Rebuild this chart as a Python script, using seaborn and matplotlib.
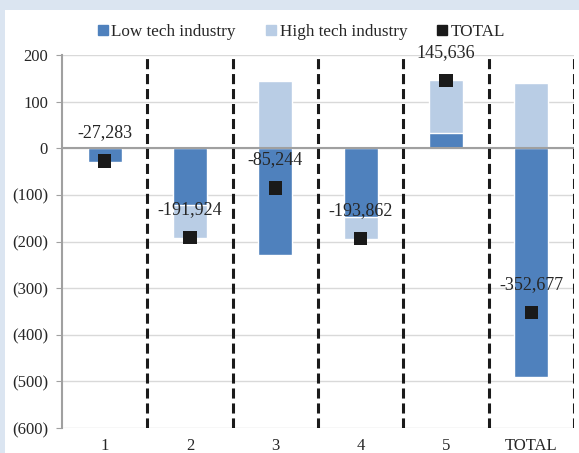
import numpy as np
import pandas as pd
import seaborn as sns
import matplotlib.pyplot as plt
from matplotlib.lines import Line2D
from matplotlib.patches import Rectangle
from matplotlib.ticker import FuncFormatter

categories = ['1', '2', '3', '4', '5', 'TOTAL']
low_tech = [-30.0, -121.5, -228.6, -146.5, 33.4, -491.5]
high_tech = [2.7, -70.4, 143.4, -47.4, 112.2, 139.0]
totals = [-27.283, -191.924, -85.244, -193.862, 145.636, -352.677]

dark = '#4f81bd'
light = '#b9cde5'
text_col = '#262626'

sns.set_style('white')
plt.rcParams['font.family'] = ['Liberation Serif', 'DejaVu Serif']
plt.rcParams['font.size'] = 12

df = pd.DataFrame({'cat': categories, 'low': low_tech, 'high': high_tech, 'total': totals})
# excel style stacking: high sits on top of low when same sign, else starts at zero
same = np.sign(df['low']) == np.sign(df['high'])
df['high_top'] = np.where(same, df['low'] + df['high'], df['high'])

fig = plt.figure(figsize=(5.79, 4.53), dpi=100)
fig.patch.set_facecolor('#dbe5f1')
fig.add_artist(Rectangle((5 / 579, 0), 1, 1 - 10 / 453, transform=fig.transFigure,
                         facecolor='white', edgecolor='none', zorder=0))
ax = fig.add_axes([62 / 579, 1 - 428 / 453, (574 - 62) / 579, (428 - 55) / 453])
ax.set_facecolor('none')

sns.barplot(data=df, x='cat', y='high_top', color=light, width=0.4, saturation=1, ax=ax, zorder=2)
sns.barplot(data=df, x='cat', y='low', color=dark, width=0.4, saturation=1, ax=ax, zorder=3)
sns.scatterplot(x=np.arange(len(categories)), y=df['total'], marker='s', s=90,
                color='#1a1a1a', edgecolor='none', ax=ax, zorder=5, legend=False)

for i, v in enumerate(totals):
    ax.annotate(f'{v * 1000:,.0f}', (i, v), xytext=(0, 14), textcoords='offset points',
                ha='center', va='bottom', fontsize=13, color=text_col, zorder=6)

for b in np.arange(0.5, len(categories), 1):
    ax.axvline(b, color='#1a1a1a', lw=2.2, linestyle=(0, (3.3, 1.6)), zorder=4)

ax.set_ylim(-600, 200)
ax.set_xlim(-0.5, len(categories) - 0.5)
ax.set_yticks(np.arange(-600, 201, 100))
ax.yaxis.set_major_formatter(FuncFormatter(lambda v, p: f'({abs(v):.0f})' if v < 0 else f'{v:.0f}'))
ax.grid(axis='y', color='#d9d9d9', lw=1, zorder=0)
ax.axhline(0, color='#a0a0a0', lw=1.5, zorder=3.5)
ax.set_xlabel('')
ax.set_ylabel('')
for s in ['top', 'right', 'bottom']:
    ax.spines[s].set_visible(False)
ax.spines['left'].set_color('#a0a0a0')
ax.spines['left'].set_linewidth(1.5)
ax.tick_params(axis='y', left=True, length=4, color='#a0a0a0', labelsize=12, labelcolor=text_col, pad=6)
ax.tick_params(axis='x', bottom=False, labelsize=12, labelcolor=text_col, pad=4)

handles = [Line2D([], [], marker='s', ls='none', color=c, markersize=7)
           for c in [dark, light, '#1a1a1a']]
fig.legend(handles, ['Low tech industry', 'High tech industry', 'TOTAL'],
           loc='center', bbox_to_anchor=(301 / 579, 1 - 32 / 453), ncol=3, frameon=False,
           fontsize=12.3, handlelength=0.7, handletextpad=0.15, columnspacing=1.7,
           labelcolor=text_col)

fig.savefig('out.png', dpi=100)
